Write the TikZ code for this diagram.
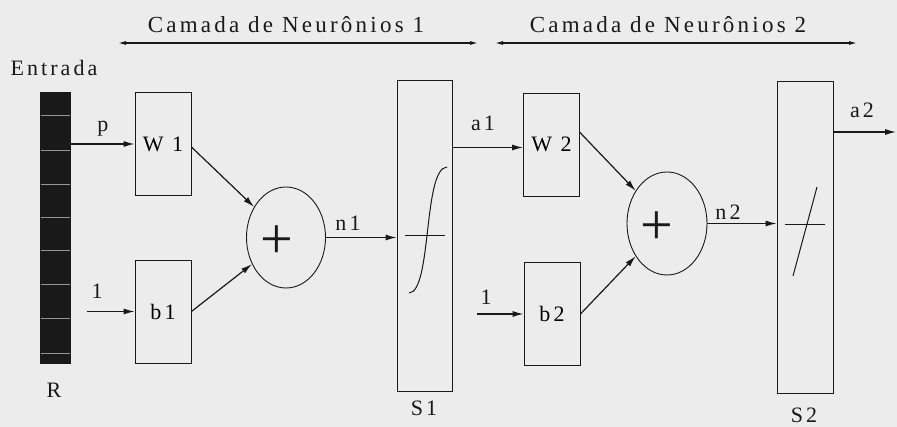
\documentclass[tikz,border=0pt]{standalone}
\usepackage{fontspec}
\setmainfont[LetterSpace=14]{Liberation Serif}
\usetikzlibrary{positioning}
\usetikzlibrary{shapes.geometric, arrows.meta}
\definecolor{paper}{RGB}{236,236,236}
\definecolor{ink}{RGB}{25,25,25}
\definecolor{stripe}{RGB}{150,150,150}

\tikzset{
    blockbox/.style={draw=ink, line width=0.9pt, minimum width=56pt, minimum height=103pt, inner sep=0pt},
    tallbox/.style={draw=ink, line width=0.9pt, minimum width=56pt, minimum height=311pt, inner sep=0pt},
    sumnode/.style={draw=ink, ellipse, line width=0.9pt, minimum width=79pt, minimum height=101pt, inner sep=0pt},
    flow/.style={draw=ink, line width=1.2pt, -{Latex[length=11pt,width=6pt]}},
    span/.style={draw=ink, line width=1.1pt, {Latex[length=8pt,width=4pt]}-{Latex[length=8pt,width=4pt]}},
    lbl/.style={text=ink, font=\fontsize{22}{25}\selectfont, inner sep=0pt},
    ttl/.style={text=ink, font=\fontsize{23}{27}\selectfont, inner sep=0pt}
}
\newcommand{\plussign}{\fontsize{58}{58}\selectfont +}

\begin{document}
\begin{tikzpicture}[x=1pt, y=-1pt]
        \fill[paper] (0,0) rectangle (897,427);
        \useasboundingbox (0,0) rectangle (897,427);

        % titulos das camadas
        \node (t1)[ttl] at (286,25) {Camada de Neurônios 1};
        \node (t2)[ttl] at (668,25) {Camada de Neurônios 2};
        \coordinate (s1a) at (118,43);
        \coordinate (s1b) at (478,43);
        \coordinate (s2a) at (495,43);
        \coordinate (s2b) at (857,43);
        \draw[span] (s1a) -- (s1b);
        \draw[span] (s2a) -- (s2b);

        % entrada
        \node (ent)[lbl] at (54,68) {Entrada};
        \node (bar)[fill=ink, minimum width=31pt, minimum height=272pt, inner sep=0pt] at (55.5,228) {};
        \foreach \y in {115,150,184,217,250,284,318,353}
            \draw[stripe, line width=0.8pt] (41,\y) -- (70,\y);
        \node (R)[lbl] at (54,390) {R};

        % camada 1
        \node (W1)[blockbox] at (163,144) {\fontsize{22}{25}\selectfont W 1};
        \node (b1)[blockbox] at (163,311.5) {\fontsize{22}{25}\selectfont b1};
        \node (sum1)[sumnode, label={[text=ink, inner sep=0pt, xshift=-9pt, yshift=-5pt]center:\plussign}] at (286,237.5) {};
        \node (S1)[tallbox, minimum width=55pt] at (424.5,235.5) {};
        \node (S1l)[lbl] at (424,408) {S1};

        \coordinate (in1) at (87,311.5);
        \draw[flow] (W1.west -| bar.east) -- (W1.west) node[lbl, midway, above=7pt] {p};
        \draw[flow] (in1) -- (b1.west);
        \node (one1)[lbl] at (97,291) {1};
        \draw[flow] ([yshift=-3pt]W1.east) -- (sum1);
        \draw[flow] (b1.east) -- (sum1);
        \draw[flow] (sum1.east) -- (sum1.east -| S1.west);
        \node (n1)[lbl] at (348,223) {n1};

        % sigmoide
        \draw[ink, line width=0.9pt] (405,235) -- (445,235);
        \draw[ink, line width=1pt] (409,293) .. controls (432,292) and (423,168) .. (447,167);

        % camada 2
        \node (W2)[blockbox] at (551.5,144.5) {\fontsize{22}{25}\selectfont W 2};
        \node (b2)[blockbox] at (552,314) {\fontsize{22}{25}\selectfont b2};
        \node (sum2)[sumnode, minimum width=80pt, minimum height=103pt, label={[text=ink, inner sep=0pt, xshift=-10pt, yshift=-5pt]center:\plussign}] at (667,223.5) {};
        \node (S2)[tallbox, minimum height=312pt] at (805,237) {};
        \node (S2l)[lbl] at (804,415) {S2};

        \draw[flow] ([yshift=-3pt]W2.west -| S1.east) -- ([yshift=-3pt]W2.west);
        \node (a1)[lbl] at (483,123) {a1};
        \coordinate (in2) at (477,314);
        \draw[flow] (in2) -- (b2.west);
        \node (one2)[lbl] at (486,297) {1};
        \draw[flow] ([yshift=12pt]W2.east) -- (sum2);
        \draw[flow] (b2.east) -- (sum2);
        \draw[flow] (sum2.east) -- (sum2.east -| S2.west);
        \node (n2)[lbl] at (728,212) {n2};

        % linear
        \draw[ink, line width=0.9pt] (785,224) -- (825,224);
        \draw[ink, line width=1pt] (793,276) -- (817,187);

        \coordinate (out) at (896,132);
        \draw[flow] (out -| S2.east) -- (out);
        \node (a2)[lbl] at (862,110) {a2};
    \end{tikzpicture}
\end{document}
